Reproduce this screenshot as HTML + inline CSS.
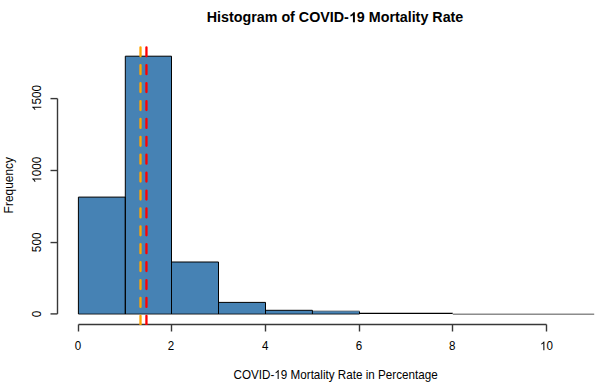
<!DOCTYPE html>
<html><head><meta charset="utf-8">
<style>
html,body{margin:0;padding:0;background:#fff;width:600px;height:383px;overflow:hidden;}
svg{display:block;}
text{font-family:"Liberation Sans", sans-serif;fill:#000;}
</style></head>
<body>
<svg width="600" height="383" viewBox="0 0 600 383">
<rect x="0" y="0" width="600" height="383" fill="#fff"/>
<!-- title -->
<text transform="translate(335.0,22.2)" font-size="14.3" font-weight="bold" text-anchor="middle">Histogram of COVID- 9 Mortality Rate</text><path transform="translate(335.0,22.2) translate(12.875,0.000) scale(0.006982,-0.006982)" d="M1006 0H725V1013Q571 876 362 810V1054Q472 1088 601 1185Q730 1281 778 1409H1006Z"/>
<!-- x label -->
<text transform="translate(335.6,378.9) scale(1.006,1.1)" font-size="11.6" text-anchor="middle">COVID- 9 Mortality Rate in Percentage</text><path transform="translate(335.6,378.9) scale(1.006,1.1) translate(-60.913,0.000) scale(0.005664,-0.005664)" d="M763 0H583V1098Q518 1038 412 979Q306 920 223 890V1057Q375 1124 489 1221Q603 1318 650 1409H763Z"/>
<!-- y label -->
<text transform="translate(12.8,185.2) rotate(-90) scale(1.03,1.05)" font-size="11.6" text-anchor="middle">Frequency</text>

<!-- bars -->
<g fill="#4682B4">
<rect x="78.40" y="197.10" width="46.90" height="116.90"/>
<rect x="125.30" y="56.20" width="46.20" height="257.80"/>
<rect x="171.50" y="262.00" width="47.00" height="52.00"/>
<rect x="218.50" y="302.40" width="47.00" height="11.60"/>
<rect x="265.50" y="310.30" width="46.90" height="3.70"/>
<rect x="312.4" y="311.2" width="47.1" height="2.8"/>
</g>
<g fill="none" stroke="#000" stroke-width="1">
<path d="M78.40 314V197.10H125.30V314"/>
<path d="M125.30 314V56.20H171.50V314"/>
<path d="M171.50 314V262.00H218.50V314"/>
<path d="M218.50 314V302.40H265.50V314"/>
<path d="M265.50 314V310.30H312.40V314"/>
</g>
<line x1="312.4" y1="311.0" x2="359.5" y2="311.0" stroke="#000" stroke-opacity="0.45" stroke-width="1"/>
<line x1="359.5" y1="311.5" x2="359.5" y2="314" stroke="#000" stroke-width="1"/>
<line x1="78.4" y1="314.07" x2="359.5" y2="314.07" stroke="#000" stroke-opacity="0.8" stroke-width="1"/>
<line x1="359.0" y1="313.4" x2="452.8" y2="313.4" stroke="#000" stroke-width="1.2"/>
<rect x="452.8" y="313" width="141.4" height="1" fill="#c4c4c4"/>
<rect x="452.8" y="314" width="141.4" height="1" fill="#8c8c8c"/>

<!-- y axis -->
<g stroke="#383838" stroke-width="1.4" fill="none">
<line x1="57.5" y1="98.6" x2="57.5" y2="313.9"/>
<line x1="50.5" y1="313.9" x2="57.5" y2="313.9"/>
<line x1="50.5" y1="242.55" x2="57.5" y2="242.55"/>
<line x1="50.5" y1="170.5" x2="57.5" y2="170.5"/>
<line x1="50.5" y1="98.6" x2="57.5" y2="98.6"/>
</g>
<g font-size="11.6" text-anchor="middle">
<text transform="translate(41.3,313.9) rotate(-90) scale(1.02,1.14)">0</text>
<text transform="translate(41.3,242.3) rotate(-90) scale(1.02,1.14)">500</text>
<text transform="translate(41.3,169.8) rotate(-90) scale(1.02,1.14)"> 000</text><path transform="translate(41.3,169.8) rotate(-90) scale(1.02,1.14) translate(-12.892,0.000) scale(0.005664,-0.005664)" d="M763 0H583V1098Q518 1038 412 979Q306 920 223 890V1057Q375 1124 489 1221Q603 1318 650 1409H763Z"/>
<text transform="translate(41.3,98.0) rotate(-90) scale(1.02,1.14)"> 500</text><path transform="translate(41.3,98.0) rotate(-90) scale(1.02,1.14) translate(-12.892,0.000) scale(0.005664,-0.005664)" d="M763 0H583V1098Q518 1038 412 979Q306 920 223 890V1057Q375 1124 489 1221Q603 1318 650 1409H763Z"/>
</g>

<!-- x axis -->
<g stroke="#383838" stroke-width="1.4" fill="none">
<line x1="78.5" y1="324.5" x2="546.5" y2="324.5"/>
<line x1="78.5" y1="324.5" x2="78.5" y2="331.5"/>
<line x1="171.5" y1="324.5" x2="171.5" y2="331.5"/>
<line x1="265.5" y1="324.5" x2="265.5" y2="331.5"/>
<line x1="359.5" y1="324.5" x2="359.5" y2="331.5"/>
<line x1="452.5" y1="324.5" x2="452.5" y2="331.5"/>
<line x1="546.5" y1="324.5" x2="546.5" y2="331.5"/>
</g>
<g font-size="11.6" text-anchor="middle">
<text transform="translate(78.10,350.2) scale(1,1.1)">0</text>
<text transform="translate(171.00,350.2) scale(1,1.1)">2</text>
<text transform="translate(265.20,350.2) scale(1,1.1)">4</text>
<text transform="translate(359.10,350.2) scale(1,1.1)">6</text>
<text transform="translate(452.20,350.2) scale(1,1.1)">8</text>
<text transform="translate(546.50,350.2) scale(1,1.1)"> 0</text><path transform="translate(546.50,350.2) scale(1,1.1) translate(-6.451,0.000) scale(0.005664,-0.005664)" d="M763 0H583V1098Q518 1038 412 979Q306 920 223 890V1057Q375 1124 489 1221Q603 1318 650 1409H763Z"/>
</g>

<!-- ablines -->
<defs><clipPath id="pr"><rect x="57.9" y="44" width="560" height="280.9"/></clipPath></defs>
<g clip-path="url(#pr)" stroke-width="2.3" stroke-linecap="round" fill="none">
<line x1="140.5" y1="324.8" x2="140.5" y2="40" stroke="#FFA500" stroke-dasharray="8.95 8.95"/>
<line x1="146.45" y1="324.8" x2="146.45" y2="40" stroke="#FF0000" stroke-dasharray="8.95 8.95"/>
</g>
</svg>
</body></html>
